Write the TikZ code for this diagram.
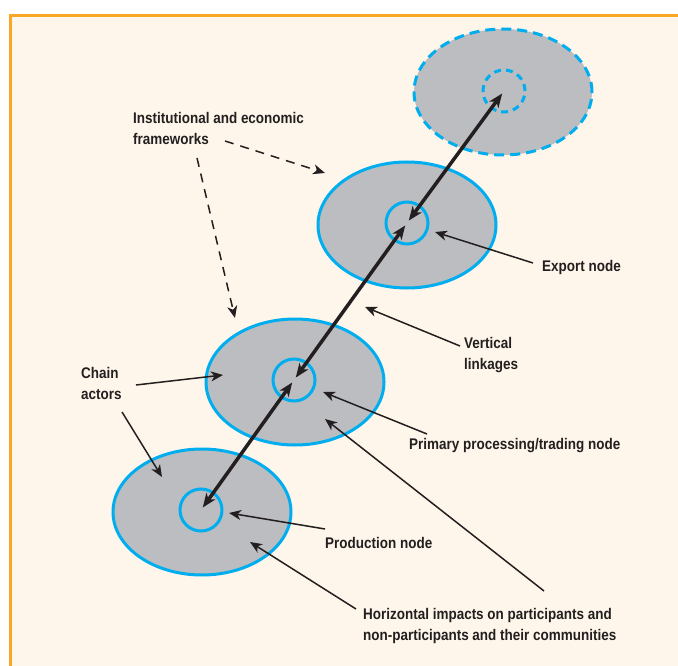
\documentclass[tikz,border=0pt]{standalone}
\usepackage{fontspec}
\setmainfont{Liberation Sans}[FakeStretch=0.875]
\usetikzlibrary{arrows.meta,shapes.geometric}
\definecolor{cream}{HTML}{FEF6EA}
\definecolor{chainblue}{HTML}{00AEEF}
\definecolor{zonegrey}{HTML}{BCBDC0}
\definecolor{frameorange}{HTML}{F9A825}
\definecolor{inkdark}{HTML}{231F20}

\begin{document}
\begin{tikzpicture}[x=1pt, y=-1pt,
	every node/.style={font=\fontsize{15.4}{21}\selectfont\bfseries, text=inkdark},
	zone/.style={ellipse, draw=chainblue, fill=zonegrey, line width=3pt, minimum width=178pt, minimum height=126pt},
	hub/.style={circle, draw=chainblue, line width=3pt, minimum size=42pt, inner sep=0pt},
	lbl/.style={inner sep=0pt, anchor=base west, align=left},
	link/.style={draw=inkdark, line width=3.5pt, {Stealth[length=14pt,width=11pt,inset=4pt]}-{Stealth[length=14pt,width=11pt,inset=4pt]}, shorten >=3pt, shorten <=3pt},
	pointer/.style={draw=inkdark, line width=1.5pt, -{Stealth[length=12pt,width=10pt,inset=3.5pt]}},
	influence/.style={pointer, dash pattern=on 9pt off 7pt}]
	\useasboundingbox (0,0) rectangle (678,666);
	\clip (0,0) rectangle (678,666);
	\fill[white] (0,0) rectangle (678,666);
	\draw[frameorange, line width=3pt, fill=cream] (10.5,15.5) rectangle (700,700);
	% chain nodes
	\node[zone, dash pattern=on 10pt off 6pt] (outer) at (503,92) {};
	\node[zone] (export) at (407,225) {};
	\node[zone] (primary) at (295,382) {};
	\node[zone] (production) at (202,512) {};
	\node[hub, dash pattern=on 7pt off 5pt] (outerhub) at (504,91) {};
	\node[hub] (exporthub) at (407,223) {};
	\node[hub] (primaryhub) at (294,380) {};
	\node[hub] (productionhub) at (201,510) {};
	% vertical linkages
	\draw[link] (productionhub.center) -- (primaryhub.center);
	\draw[link] (primaryhub.center) -- (exporthub.center);
	\draw[link] (exporthub.center) -- (outerhub.center);
	% labels (base = last line)
	\node[lbl] (instlbl) at (133,145) {Institutional and economic\\frameworks};
	\node[lbl] (chainlbl) at (81,399) {Chain\\actors};
	\node[lbl] (exportlbl) at (542,271) {Export node};
	\node[lbl] (vertlbl) at (464,369) {Vertical\\linkages};
	\node[lbl] (primlbl) at (409,449) {Primary processing/trading node};
	\node[lbl] (prodlbl) at (325,548) {Production node};
	\node[lbl] (horizlbl) at (363,640) {Horizontal impacts on participants and\\non-participants and their communities};
	% pointers
	\draw[influence] ([shift={(92,-4)}]instlbl.base west) -- ([shift={(-82,-52)}]export.center);
	\draw[influence] ([shift={(64,13)}]instlbl.base west) -- ([shift={(-60,-64)}]primary.center);
	\draw[pointer] ([shift={(55,-14)}]chainlbl.base west) -- ([shift={(-72,-7)}]primary.center);
	\draw[pointer] ([shift={(41,13)}]chainlbl.base west) -- ([shift={(-40,-35)}]production.center);
	\draw[pointer] ([shift={(-9,-8)}]exportlbl.base west) -- ([shift={(28,7)}]export.center);
	\draw[pointer] ([shift={(-4,-23)}]vertlbl.base west) -- ([shift={(-42,84)}]exporthub.center);
	\draw[pointer] ([shift={(18,-15)}]primlbl.base west) -- ([shift={(28,10)}]primary.center);
	\draw[pointer] ([shift={(0,-19)}]prodlbl.base west) -- ([shift={(27,1)}]production.center);
	\draw[pointer] ([shift={(-7,-31)}]horizlbl.base west) -- ([shift={(48,30)}]production.center);
	\draw[pointer] ([shift={(181,-49)}]horizlbl.base west) -- ([shift={(30,37)}]primary.center);
\end{tikzpicture}
\end{document}
